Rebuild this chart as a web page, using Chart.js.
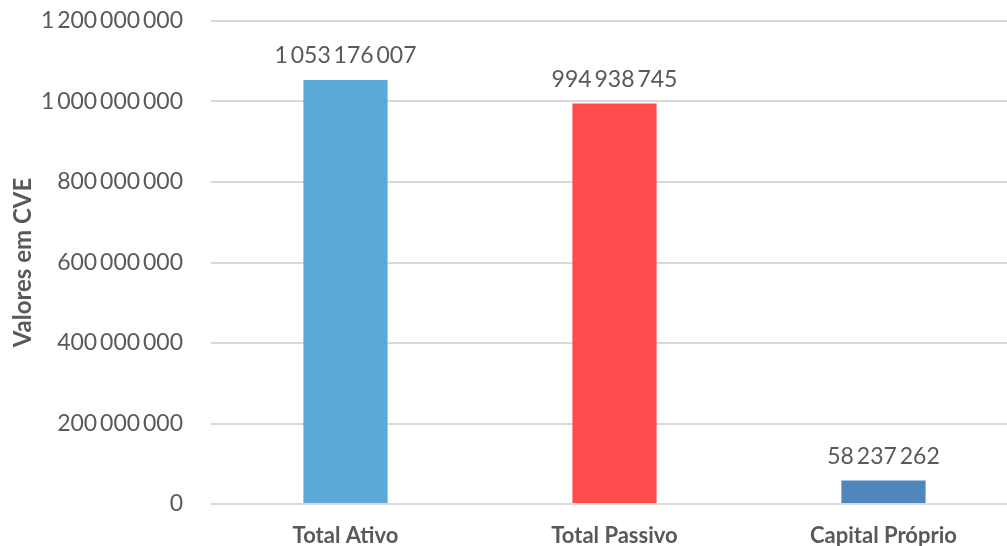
<!DOCTYPE html>
<html>
<head>
<meta charset="utf-8">
<script src="https://cdn.jsdelivr.net/npm/chart.js@4"></script>
<style>
  html, body { margin: 0; padding: 0; background: #fff; overflow: hidden; }
  #wrap { width: 1020px; height: 546px; position: relative; }
</style>
</head>
<body>
<div id="wrap"><canvas id="balanceChart"></canvas></div>
<script>
// Balance sheet totals (CVE)
const categories = ['Total Ativo', 'Total Passivo', 'Capital Próprio'];
const values = [1053176007, 994938745, 58237262];
const barColors = ['#5BA8D9', '#FF4C4C', '#4F87BD'];
const yTicks = [0, 200000000, 400000000, 600000000, 800000000, 1000000000, 1200000000];

const FONT = 'Lato, "Open Sans", sans-serif';
const TEXT = '#595959';

// thousands grouped with a thin space
function spaced(n) {
    return String(Math.round(n)).replace(/\B(?=(\d{3})+(?!\d))/g, '\u2009');
}

// draws each bar's value just above it
const valueLabels = {
    id: 'valueLabels',
    afterDatasetsDraw(chart) {
        const ctx = chart.ctx;
        const meta = chart.getDatasetMeta(0);
        ctx.save();
        ctx.font = '23px ' + FONT;
        ctx.fillStyle = TEXT;
        ctx.textAlign = 'center';
        ctx.textBaseline = 'alphabetic';
        meta.data.forEach(function(bar, i) {
            ctx.fillText(spaced(values[i]), bar.x, bar.y - 17);
        });
        ctx.restore();
    }
};

document.addEventListener('DOMContentLoaded', function() {
    const ctx = document.getElementById('balanceChart');
    new Chart(ctx, {
        type: 'bar',
        data: {
            labels: categories,
            datasets: [{
                data: values,
                backgroundColor: barColors,
                borderWidth: 0,
                barPercentage: 0.313,
                categoryPercentage: 1
            }]
        },
        options: {
            responsive: true,
            maintainAspectRatio: false,
            animation: false,
            layout: { padding: { top: 21, left: 0, right: 2, bottom: 0 } },
            plugins: {
                legend: { display: false },
                tooltip: { enabled: false }
            },
            scales: {
                x: {
                    grid: { display: false },
                    border: { display: false },
                    ticks: {
                        color: TEXT,
                        font: { family: FONT, size: 22, weight: 'bold' },
                        padding: 11
                    },
                    afterFit: function(axis) {
                        axis.height = 42;
                    }
                },
                y: {
                    min: 0,
                    max: 1200000000,
                    afterBuildTicks: function(axis) {
                        axis.ticks = yTicks.map(function(v) { return { value: v }; });
                    },
                    grid: { color: '#D9D9D9', lineWidth: 2, drawTicks: false },
                    border: { display: false },
                    ticks: {
                        color: TEXT,
                        font: { family: FONT, size: 23 },
                        padding: 28,
                        callback: function(v) { return spaced(v); }
                    },
                    title: {
                        display: true,
                        text: 'Valores em CVE',
                        color: TEXT,
                        font: { family: FONT, size: 24, weight: 'bold' },
                        padding: { top: 9, bottom: 0 }
                    },
                    afterFit: function(axis) {
                        axis.width = 211;
                        axis.paddingTop = 0;
                        axis.paddingBottom = 0;
                    }
                }
            }
        },
        plugins: [valueLabels]
    });
});
</script>
</body>
</html>
